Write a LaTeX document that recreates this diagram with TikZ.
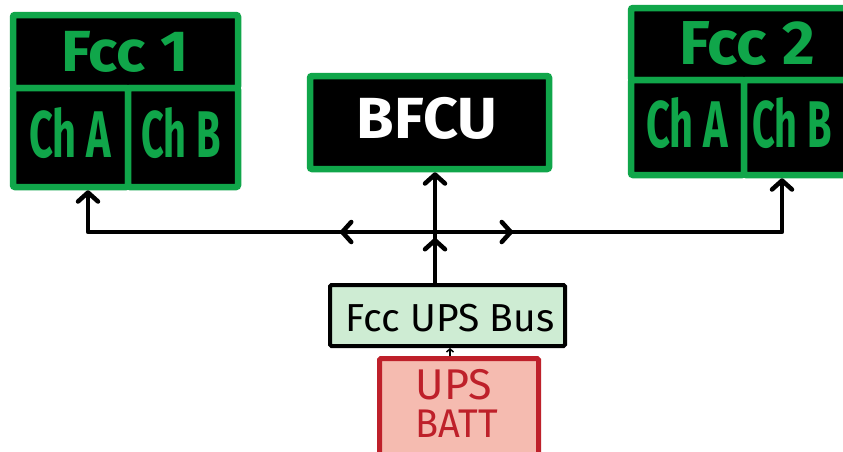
\documentclass[tikz,border=0pt]{standalone}
\usepackage{fontspec}
\setmainfont{Fira Sans}
\usetikzlibrary{arrows.meta}
\definecolor{fccgreen}{RGB}{16,166,74}
\definecolor{busfill}{RGB}{206,236,211}
\definecolor{battfill}{RGB}{245,187,176}
\definecolor{battred}{RGB}{190,32,42}
\newcommand\hwtext[3]{\fontsize{#1}{#1}\selectfont\scalebox{#2}[1]{#3}}
\tikzset{
  cell/.style={draw=fccgreen, fill=black, line width=6.5pt, inner sep=0pt, rounded corners=2pt},
  gtext/.style={text=fccgreen, font=\bfseries, inner sep=0pt},
  wtext/.style={text=white, font=\bfseries, inner sep=0pt},
  btext/.style={text=black, inner sep=0pt},
  rtext/.style={text=battred, inner sep=0pt},
  conn/.style={line width=4.5pt, line cap=round, line join=round, draw=black},
  arr/.style={-{Straight Barb[length=9pt,width=20pt,round]}},
  smallarr/.style={line width=1.5pt, -{Straight Barb[length=3pt,width=7pt]}}
}
\begin{document}
\begin{tikzpicture}[x=1pt,y=-1pt]
\useasboundingbox (0,0) rectangle (843,451);
\clip (0,0) rectangle (843,451);
\fill[white] (0,0) rectangle (843,451);

% FCC 1
\node[cell, minimum width=225, minimum height=73] (fcc1t) at (125.5,51.5) {};
\node[cell, minimum width=115, minimum height=99] (fcc1a) at (70.5,137.5) {};
\node[cell, minimum width=110, minimum height=99] (fcc1b) at (183,137.5) {};
\node[gtext] (fcc1tl) at (125,52) {\hwtext{58}{1.05}{Fcc 1}};
\node[gtext] (fcc1al) at (70,133) {\hwtext{66}{0.63}{Ch A}};
\node[gtext] (fcc1bl) at (181,133) {\hwtext{66}{0.6}{Ch B}};

% FCC 2
\node[cell, minimum width=219, minimum height=72] (fcc2t) at (740.5,44) {};
\node[cell, minimum width=113, minimum height=95] (fcc2a) at (687.5,127.5) {};
\node[cell, minimum width=106, minimum height=95] (fcc2b) at (797,127.5) {};
\node[gtext] (fcc2tl) at (747,44) {\hwtext{62}{1.02}{Fcc 2}};
\node[gtext] (fcc2al) at (687,123) {\hwtext{66}{0.63}{Ch A}};
\node[gtext] (fcc2bl) at (792,123) {\hwtext{66}{0.6}{Ch B}};

% BFCU
\node[cell, minimum width=239, minimum height=93] (bfcu) at (429.5,122.5) {};
\node[wtext] (bfcul) at (427,118) {\hwtext{58}{1.05}{BFCU}};

% FCC UPS Bus
\node[draw=black, fill=busfill, line width=4pt, inner sep=0pt, rounded corners=1.5pt,
      minimum width=235, minimum height=61] (bus) at (447.5,315.5) {};
\node[btext] (busl) at (450,318) {\hwtext{39}{1}{Fcc UPS Bus}};

% UPS BATT
\node[draw=battred, fill=battfill, line width=5pt, inner sep=0pt, rounded corners=1.5pt,
      minimum width=159, minimum height=116] (batt) at (459,416.5) {};
\node[rtext] (battl1) at (454,385) {\hwtext{43}{1}{UPS}};
\node[rtext] (battl2) at (457,424) {\hwtext{40}{0.95}{BATT}};

% connectors
\coordinate (j) at (435,232);
\coordinate (jm) at (435,238);
\coordinate (cL) at (88,232);
\coordinate (cR) at (782,232);
\coordinate (mL) at (340,232);
\coordinate (mR) at (513,232);
\coordinate (bx) at (450,0);

\draw[conn, arr] (bus.north -| j) -- (bfcu.south -| j);
\draw[conn, arr] (bus.north -| j) -- (jm);
\draw[conn, arr] (j) -- (cL) -- (fcc1a.south -| cL);
\draw[conn, arr] (j) -- (mL);
\draw[conn, arr] (j) -- (cR) -- (fcc2b.south -| cR);
\draw[conn, arr] (j) -- (mR);
\draw[smallarr] (batt.north -| bx) -- (bus.south -| bx);
\end{tikzpicture}
\end{document}
